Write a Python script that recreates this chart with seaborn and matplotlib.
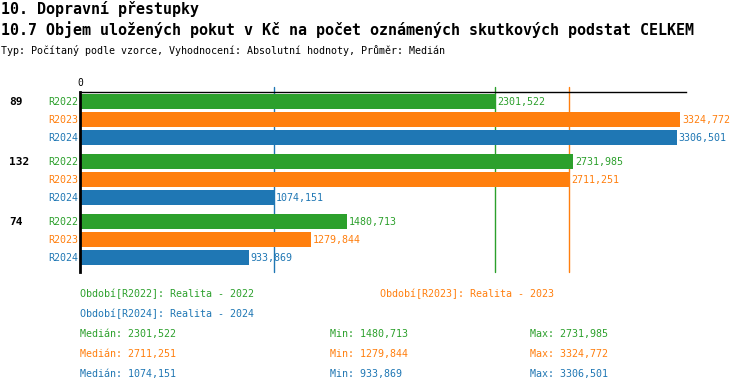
import matplotlib
matplotlib.use('Agg')

import matplotlib.pyplot as plt
import matplotlib.transforms as mtransforms
import pandas as pd
import seaborn as sns

categories = ["89", "132", "74"]
periods = ["R2022", "R2023", "R2024"]
values_2022 = [2301.522, 2731.985, 1480.713]
values_2023 = [3324.772, 2711.251, 1279.844]
values_2024 = [3306.501, 1074.151, 933.869]
period_names = ["Realita - 2022", "Realita - 2023", "Realita - 2024"]
colors = ["#2ca02c", "#ff7f0e", "#1f77b4"]

W, H = 750, 392


def fmt(v):
    return f"{v:.3f}".replace(".", ",")


def fx(px):
    return px / W


def fy(py):
    return 1 - py / H


rows = []
for period, vals in zip(periods, [values_2022, values_2023, values_2024]):
    for cat, v in zip(categories, vals):
        rows.append({"cat": cat, "period": period, "value": v})
df = pd.DataFrame(rows)

sns.set_style("white")
plt.rcParams['font.family'] = ['DejaVu Sans Mono']
plt.rcParams['text.color'] = 'black'
plt.rcParams['xtick.color'] = 'black'

fig = plt.figure(figsize=(7.5, 3.92), dpi=100)
ax = fig.add_axes([fx(80), fy(272), fx(686) - fx(80), (272 - 92) / H])

sns.barplot(
    data=df, y="cat", x="value", hue="period",
    order=categories, hue_order=periods,
    palette=colors, orient="h", width=0.9, gap=0.15,
    saturation=1, legend=False, ax=ax
)
for p in ax.patches:
    p.set_zorder(3)
    p.set_edgecolor("none")

vmax = df["value"].max()
ax.set_xlim(0, vmax * 1.01)
ax.set_ylim(2.54, -0.46)

for s in ["right", "bottom"]:
    ax.spines[s].set_visible(False)
ax.spines["left"].set_linewidth(2)
ax.spines["left"].set_color("black")
ax.spines["left"].set_zorder(5)
ax.spines["top"].set_linewidth(1)
ax.spines["top"].set_color("black")
ax.spines["top"].set_zorder(5)

ax.set_xticks([0])
ax.xaxis.tick_top()
ax.tick_params(axis="x", length=0, pad=3, labelsize=7)
ax.set_yticks([])
ax.set_xlabel("")
ax.set_ylabel("")

# median lines
stats = []
for period, vals, c in zip(periods, [values_2022, values_2023, values_2024], colors):
    s = pd.Series(vals)
    stats.append((s.median(), s.min(), s.max()))
    ax.axvline(s.median(), ymin=0, ymax=1 + 5 / 180, color=c,
               lw=1, clip_on=False, zorder=1)

# bar labels and period labels
blend = mtransforms.blended_transform_factory(fig.transFigure, ax.transData)
offset = mtransforms.ScaledTranslation(2 / 100, 0, fig.dpi_scale_trans)
for i, cat in enumerate(categories):
    for j, (period, vals, c) in enumerate(zip(periods, [values_2022, values_2023, values_2024], colors)):
        y = i - 0.3 + j * 0.3
        ax.text(vals[i], y, fmt(vals[i]), color=c, fontsize=7.2,
                va="center", ha="left", transform=ax.transData + offset,
                zorder=4)
        ax.text(fx(78), y, period, color=c, fontsize=7.2,
                va="center", ha="right", transform=blend)
    ax.text(fx(9), i - 0.3, cat, color="black", fontsize=8,
            fontweight="bold", va="center", ha="left", transform=blend)

# titles
fig.text(fx(1), fy(9), "10. Dopravní přestupky", fontsize=10.8,
         fontweight="bold", va="center", ha="left")
fig.text(fx(1), fy(30),
         "10.7 Objem uložených pokut v Kč na počet oznámených skutkových podstat CELKEM",
         fontsize=10.8, fontweight="bold", va="center", ha="left")
fig.text(fx(1), fy(50),
         "Typ: Počítaný podle vzorce, Vyhodnocení: Absolutní hodnoty, Průměr: Medián",
         fontsize=7.2, va="center", ha="left")

# legend block
fig.text(fx(80), fy(294), f"Období[{periods[0]}]: {period_names[0]}",
         color=colors[0], fontsize=7.2, va="center")
fig.text(fx(380), fy(294), f"Období[{periods[1]}]: {period_names[1]}",
         color=colors[1], fontsize=7.2, va="center")
fig.text(fx(80), fy(314), f"Období[{periods[2]}]: {period_names[2]}",
         color=colors[2], fontsize=7.2, va="center")
for k, (st, c) in enumerate(zip(stats, colors)):
    yy = fy(334 + 20 * k)
    fig.text(fx(80), yy, f"Medián: {fmt(st[0])}", color=c, fontsize=7.2, va="center")
    fig.text(fx(330), yy, f"Min: {fmt(st[1])}", color=c, fontsize=7.2, va="center")
    fig.text(fx(530), yy, f"Max: {fmt(st[2])}", color=c, fontsize=7.2, va="center")

plt.savefig("out.png", dpi=100)
plt.close()
